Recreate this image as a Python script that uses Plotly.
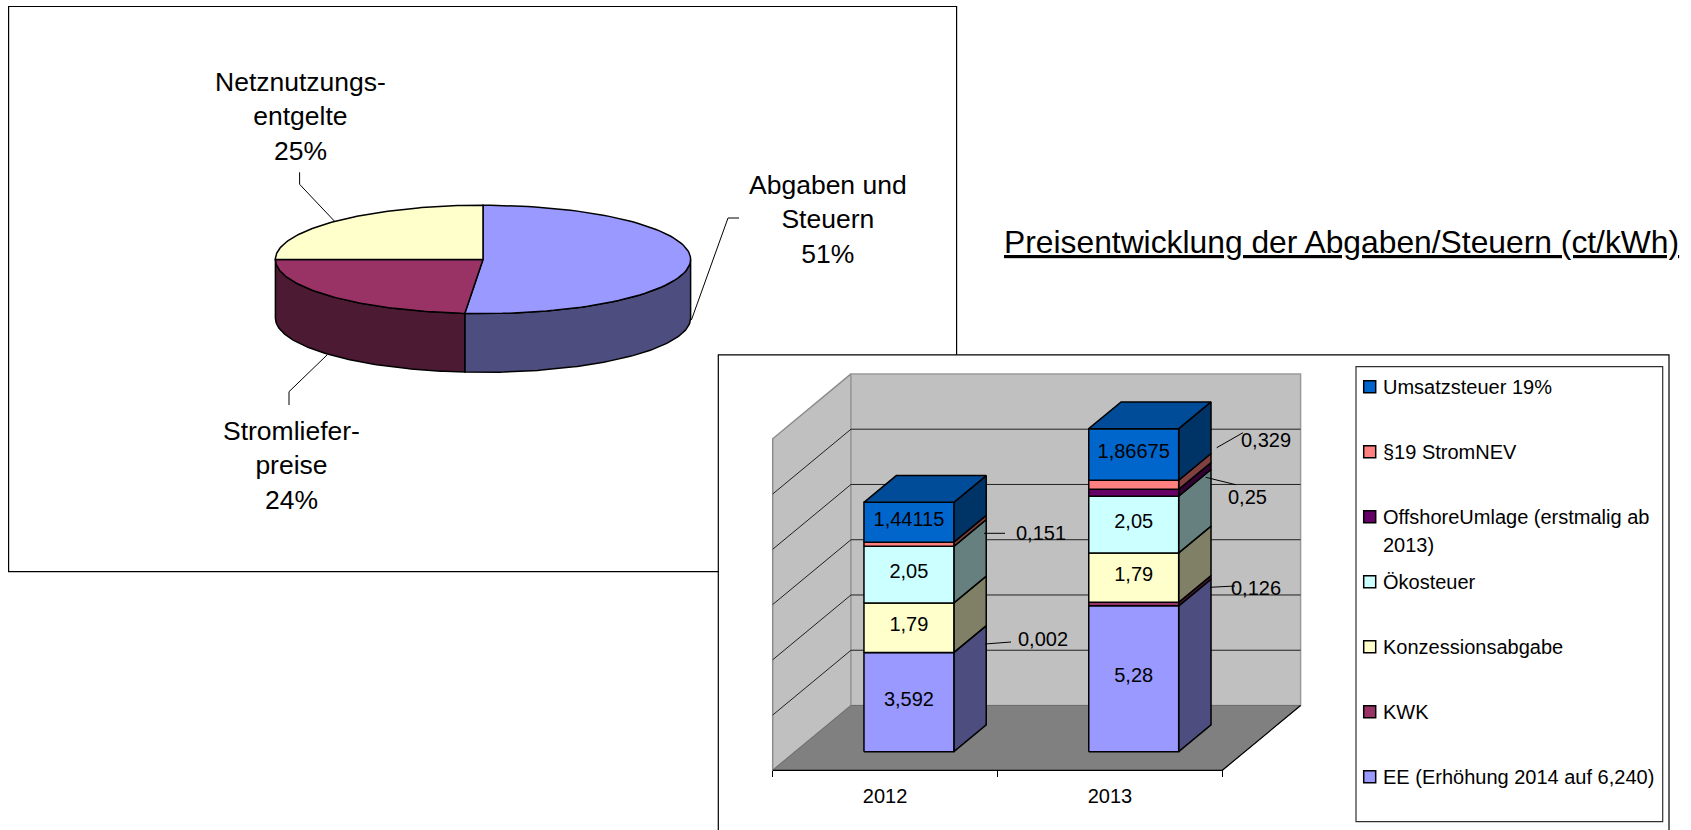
import numpy as np
import plotly.graph_objects as go

# ---------- data ----------
pie_names = ["Abgaben und<br>Steuern", "Stromliefer-<br>preise", "Netznutzungs-<br>entgelte"]
pie_values = [51.4, 23.6, 25.0]
pie_colors = ["#9999FF", "#993366", "#FFFFCC"]
pie_side_colors = ["#4D4D80", "#4D1A33", "#808066"]

years = ["2012", "2013"]
series_names = ["EE (Erhöhung 2014 auf 6,240)", "KWK", "Konzessionsabgabe", "Ökosteuer",
                "OffshoreUmlage (erstmalig ab<br>2013)", "§19 StromNEV", "Umsatzsteuer 19%"]
ee = [3.592, 5.28]
kwk = [0.002, 0.126]
konzession = [1.79, 1.79]
oeko = [2.05, 2.05]
offshore = [0.0, 0.25]
strom_nev = [0.151, 0.329]
ust = [1.44115, 1.86675]
series_values = [ee, kwk, konzession, oeko, offshore, strom_nev, ust]
series_colors = ["#9999FF", "#993366", "#FFFFCC", "#CCFFFF", "#660066", "#FF8080", "#0066CC"]
side_colors = ["#4D4D80", "#4D1A33", "#808066", "#668080", "#330033", "#804040", "#003366"]
top_color = "#004C99"
inside_labels = {0: ["3,592", "5,28"], 2: ["1,79", "1,79"], 3: ["2,05", "2,05"], 6: ["1,44115", "1,86675"]}
y_max = 12
grid_values = [2, 4, 6, 8, 10]

# ---------- page geometry ----------
W, H = 1691, 830
FONT = "Liberation Sans"
def px(x): return x / W
def py(y): return 1 - y / H

BAR_BOX = (718.3, 354.8, 1669.0, 830.0)
PIE_BOX = (8.6, 6.5, 956.6, 571.6)
X0, CATW, Y0, VALH = 772.7, 224.8, 770.3, 27.63   # left floor corner, px per category, floor y, px per unit
DX, DY = 78.3, 64.8                                # full chart depth in px
BAR_W, BAR_D0, BAR_D1, BAR_SHIFT = 0.40, 0.287, 0.70, 0.006

def proj(c, v, d):
    """category position, value, depth (0 front .. 1 back) -> axis units"""
    return c + d * DX / CATW, v + d * DY / VALH

fig = go.Figure()

def poly(xs, ys, fill, line="black", lw=1.5, name=None):
    fig.add_trace(go.Scatter(x=xs, y=ys, mode="lines", fill="toself", fillcolor=fill,
                             line=dict(color=line, width=lw), hoverinfo="skip", name=name))

def path(pts):
    xs = [p[0] for p in pts] + [pts[0][0]]
    ys = [p[1] for p in pts] + [pts[0][1]]
    return xs, ys

cat_lo, cat_hi = -0.5, 1.5
# walls and floor
x, y = path([proj(cat_lo, 0, 0), proj(cat_lo, y_max, 0), proj(cat_lo, y_max, 1), proj(cat_lo, 0, 1)])
poly(x, y, "#C0C0C0", "#8C8C8C", 1.5)
x, y = path([proj(cat_lo, 0, 1), proj(cat_lo, y_max, 1), proj(cat_hi, y_max, 1), proj(cat_hi, 0, 1)])
poly(x, y, "#C0C0C0", "#9A9A9A", 1.5)
x, y = path([proj(cat_lo, 0, 0), proj(cat_lo, 0, 1), proj(cat_hi, 0, 1), proj(cat_hi, 0, 0)])
poly(x, y, "#808080", "#6E6E6E", 1)

# gridlines
gx, gy = [], []
for g in grid_values:
    for a in [proj(cat_lo, g, 0), proj(cat_lo, g, 1), proj(cat_hi, g, 1)]:
        gx.append(a[0]); gy.append(a[1])
    gx.append(None); gy.append(None)
fig.add_trace(go.Scatter(x=gx, y=gy, mode="lines", line=dict(color="#202020", width=1), hoverinfo="skip"))

# floor front + right edge
a, b, c = proj(cat_lo, 0, 0), proj(cat_hi, 0, 0), proj(cat_hi, 0, 1)
fig.add_trace(go.Scatter(x=[a[0], b[0], c[0]], y=[a[1], b[1], c[1]], mode="lines",
                         line=dict(color="black", width=1.2), hoverinfo="skip"))

# stacked 3D bars
base = [0.0, 0.0]
for s, vals in enumerate(series_values):
    fx, fy, sx, sy = [], [], [], []
    for i, v in enumerate(vals):
        if v <= 0:
            continue
        lo, hi = base[i], base[i] + v
        cl, cr = i + BAR_SHIFT - BAR_W / 2, i + BAR_SHIFT + BAR_W / 2
        xs, ys = path([proj(cl, lo, BAR_D0), proj(cl, hi, BAR_D0), proj(cr, hi, BAR_D0), proj(cr, lo, BAR_D0)])
        fx += xs + [None]; fy += ys + [None]
        xs, ys = path([proj(cr, lo, BAR_D0), proj(cr, hi, BAR_D0), proj(cr, hi, BAR_D1), proj(cr, lo, BAR_D1)])
        sx += xs + [None]; sy += ys + [None]
    poly(sx, sy, side_colors[s], name=series_names[s] + " side")
    poly(fx, fy, series_colors[s], name=series_names[s])
    if s in inside_labels:
        tx, ty = [], []
        for i, v in enumerate(vals):
            p = proj(i + BAR_SHIFT, base[i] + v / 2, BAR_D0)
            tx.append(p[0]); ty.append(p[1] + 1.5 / VALH)
        fig.add_trace(go.Scatter(x=tx, y=ty, mode="text", text=inside_labels[s],
                                 textfont=dict(family=FONT, size=20, color="black"), hoverinfo="skip"))
    base = [b_ + v for b_, v in zip(base, vals)]

# bar tops
tx, ty = [], []
for i, tot in enumerate(base):
    cl, cr = i + BAR_SHIFT - BAR_W / 2, i + BAR_SHIFT + BAR_W / 2
    xs, ys = path([proj(cl, tot, BAR_D0), proj(cl, tot, BAR_D1), proj(cr, tot, BAR_D1), proj(cr, tot, BAR_D0)])
    tx += xs + [None]; ty += ys + [None]
poly(tx, ty, top_color)

# ---------- pie ----------
PIE_CX, PIE_CY, PIE_A, PIE_B, PIE_T = 483.0, 259.4, 207.6, 54.2, 58.7

def arc(t0, t1, drop=0.0):
    t = np.radians(np.linspace(t0, t1, 90))
    return list(np.sin(t)), list(np.cos(t) - drop)

shares = np.array(pie_values) / sum(pie_values) * 360
edges = np.concatenate([[0], np.cumsum(shares)])
drop = PIE_T / PIE_B
for k in range(len(pie_values)):
    t0, t1 = max(edges[k], 90), min(edges[k + 1], 270)
    if t1 > t0:
        ax_, ay_ = arc(t0, t1)
        bx_, by_ = arc(t1, t0, drop)
        xs = ax_ + bx_ + [ax_[0]]
        ys = ay_ + by_ + [ay_[0]]
        fig.add_trace(go.Scatter(x=xs, y=ys, xaxis="x2", yaxis="y2", mode="lines", fill="toself",
                                 fillcolor=pie_side_colors[k], line=dict(color="black", width=1.5),
                                 hoverinfo="skip"))
for k in range(len(pie_values)):
    ax_, ay_ = arc(edges[k], edges[k + 1])
    xs = [0.0] + ax_ + [0.0]
    ys = [0.0] + ay_ + [0.0]
    fig.add_trace(go.Scatter(x=xs, y=ys, xaxis="x2", yaxis="y2", mode="lines", fill="toself",
                             fillcolor=pie_colors[k], line=dict(color="black", width=1.5),
                             name=pie_names[k], hoverinfo="skip"))

# ---------- custom legend ----------
LEG_X, LEG_Y0, LEG_STEP = 1369.7, 776.7, 65.0
for s in range(len(series_names)):
    fig.add_trace(go.Scatter(x=[0], y=[s], xaxis="x3", yaxis="y3", mode="markers",
                             marker=dict(symbol="square", size=12, color=series_colors[s],
                                         line=dict(color="black", width=1.5)), hoverinfo="skip"))

annotations = []
def note(x, y, text, size=20, xanchor="center", yanchor="middle", align="center"):
    annotations.append(dict(xref="paper", yref="paper", x=px(x), y=py(y), text=text, showarrow=False,
                            xanchor=xanchor, yanchor=yanchor, align=align,
                            font=dict(family=FONT, size=size, color="black"),
                            borderpad=0, bgcolor="rgba(0,0,0,0)"))

for s, name in enumerate(series_names):
    for j, part in enumerate(name.split("<br>")):
        note(1382, LEG_Y0 - s * LEG_STEP + 0.5 + j * 28, part, xanchor="left", align="left")

# pie labels
PIE_SIZE = 26.5
pie_label_pos = [(828, 219), (291, 465), (300, 116.5)]
for name, val, (lx, ly) in zip(pie_names, pie_values, pie_label_pos):
    note(lx, ly, f"{name}<br>{round(val)}%", size=PIE_SIZE)

# outside bar labels
note(1040.5, 532.5, "0,151")
note(1043, 638.5, "0,002")
note(1266, 440, "0,329")
note(1247, 496.7, "0,25")
note(1256, 587.5, "0,126")

# title
note(1003, 241.6, "<u>Preisentwicklung der Abgaben/Steuern (ct/kWh)</u>", size=31.8, xanchor="left", align="left")

# ---------- frames and leaders ----------
def rect(box, fill="white", line="black", w=1.2):
    return dict(type="rect", xref="paper", yref="paper", x0=px(box[0]), y0=py(box[1]), x1=px(box[2]),
                y1=py(box[3] + (6 if box[3] >= H else 0)), fillcolor=fill, line=dict(color=line, width=w), layer="below")

shapes = [rect(PIE_BOX), rect(BAR_BOX), rect((1356, 366.7, 1662.7, 821.7), line="#303030")]
leaders = [
    [(299.6, 172.3), (299.6, 184.3), (334.3, 221)],
    [(289, 405), (289, 391.7), (327, 355)],
    [(739, 218), (728, 218), (691.4, 320)],
    [(984, 533.3), (1005, 533.3)],
    [(985, 644), (1011, 642)],
    [(1216.7, 447.7), (1243, 432.7)],
    [(1205.7, 477.3), (1235.7, 484.7)],
    [(1210, 587.3), (1235, 586)],
]
for L in leaders:
    for (a0, b0), (a1, b1) in zip(L[:-1], L[1:]):
        shapes.append(dict(type="line", xref="paper", yref="paper", x0=px(a0), y0=py(b0), x1=px(a1), y1=py(b1),
                           line=dict(color="black", width=1), layer="above"))

# ---------- axes ----------
def hidden(**kw):
    return dict(visible=False, showgrid=False, zeroline=False, fixedrange=True, **kw)

fig.update_layout(
    width=W, height=H, margin=dict(l=0, r=0, t=0, b=0, pad=0), autosize=False,
    paper_bgcolor="white", plot_bgcolor="rgba(0,0,0,0)", showlegend=False,
    font=dict(family=FONT, color="black"),
    annotations=annotations, shapes=shapes,
    xaxis=dict(domain=[px(BAR_BOX[0]), px(BAR_BOX[2])],
               range=[(BAR_BOX[0] - X0) / CATW - 0.5, (BAR_BOX[2] - X0) / CATW - 0.5],
               anchor="free", position=py(Y0), showgrid=False, zeroline=False, showline=False, fixedrange=True,
               tickmode="array", tickvals=[0, 1], ticktext=years, ticks="outside", ticklen=8,
               tickcolor="rgba(0,0,0,0)", tickfont=dict(family=FONT, size=20, color="black"),
               minor=dict(tickmode="array", tickvals=[-0.5, 0.5, 1.5], ticks="outside", ticklen=6,
                          tickcolor="black", tickwidth=1, showgrid=False)),
    yaxis=hidden(domain=[py(BAR_BOX[3]), py(BAR_BOX[1])],
                 range=[(Y0 - BAR_BOX[3]) / VALH, (Y0 - BAR_BOX[1]) / VALH]),
    xaxis2=hidden(domain=[px(PIE_BOX[0]), px(PIE_BOX[2])], anchor="y2",
                  range=[(PIE_BOX[0] - PIE_CX) / PIE_A, (PIE_BOX[2] - PIE_CX) / PIE_A]),
    yaxis2=hidden(domain=[py(PIE_BOX[3]), py(PIE_BOX[1])], anchor="x2",
                  range=[(PIE_CY - PIE_BOX[3]) / PIE_B, (PIE_CY - PIE_BOX[1]) / PIE_B]),
    xaxis3=hidden(domain=[px(LEG_X - 10), px(LEG_X + 10)], anchor="y3", range=[-1, 1]),
    yaxis3=hidden(domain=[py(LEG_Y0 + LEG_STEP / 2), py(LEG_Y0 - 6.5 * LEG_STEP)], anchor="x3", range=[-0.5, 6.5]),
)

fig.write_html("out.html", config=dict(displayModeBar=False),
               post_script="document.body.style.margin='0';document.body.style.overflow='hidden';")
